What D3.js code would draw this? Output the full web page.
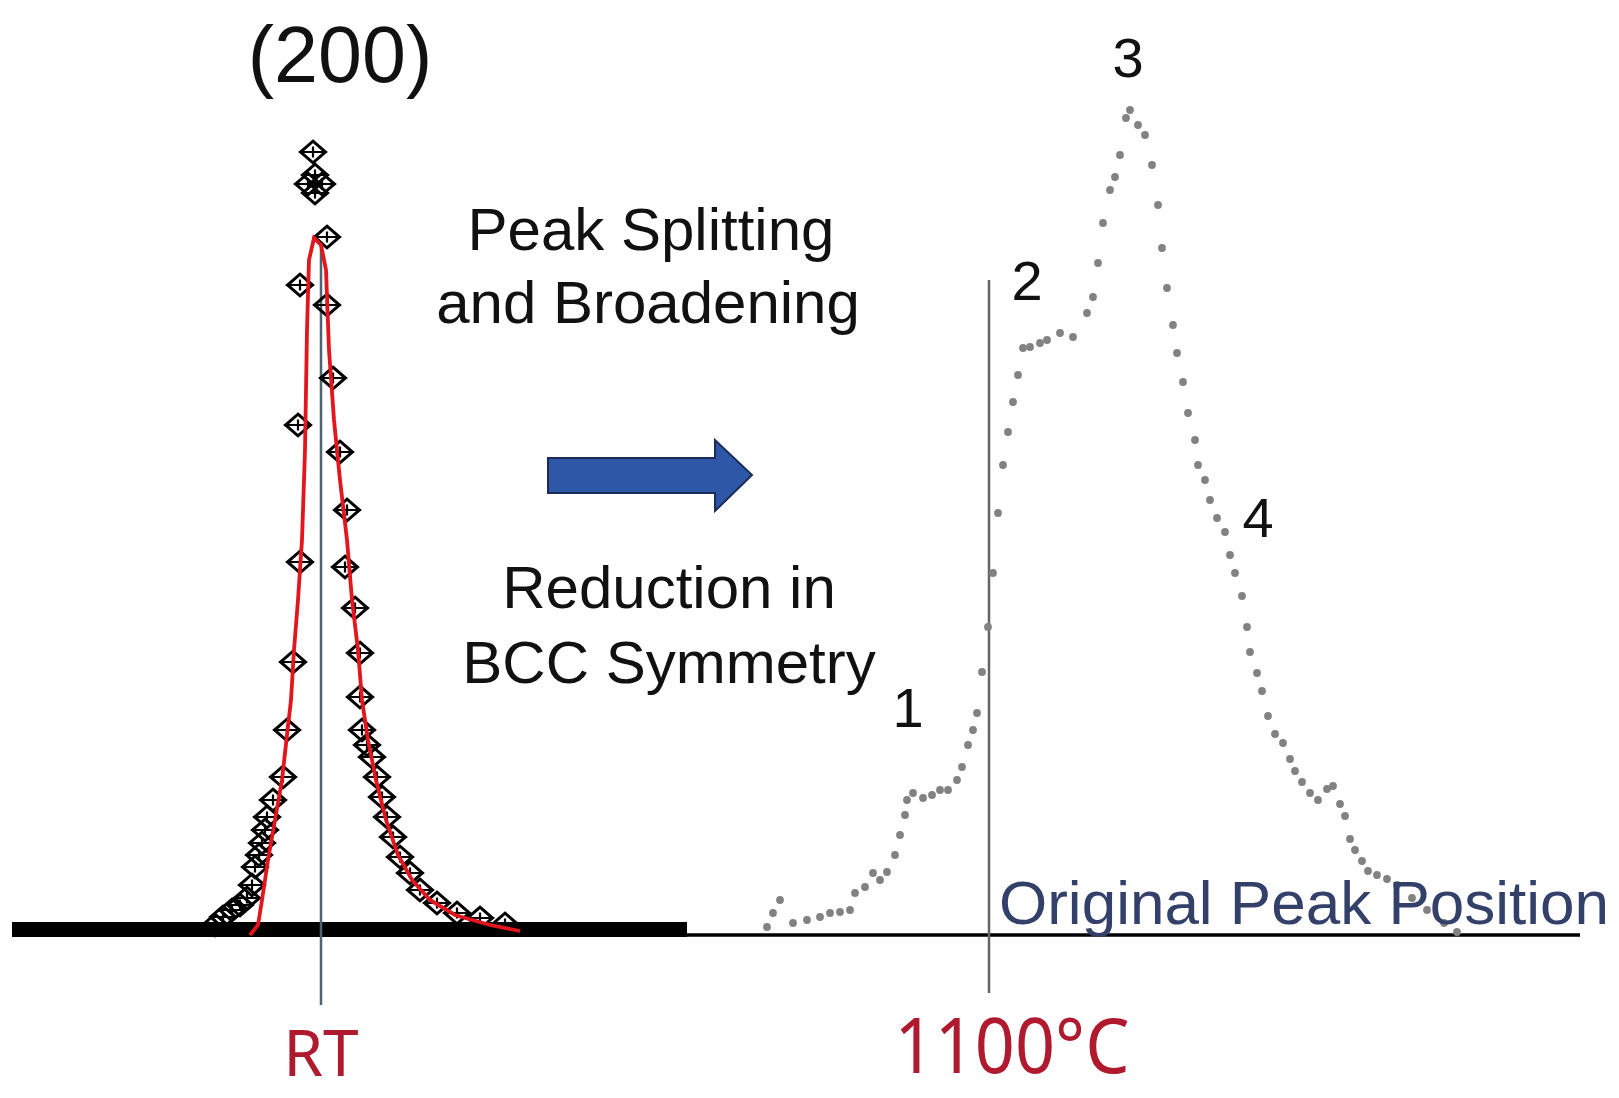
<!DOCTYPE html>
<html>
<head>
<meta charset="utf-8">
<script src="https://cdn.jsdelivr.net/npm/d3@7"></script>
<style>
  body { margin: 0; background: #fff; }
  svg { display: block; }
</style>
</head>
<body>
<div id="chart"></div>
<script>
// RT (200) profile: measured points (hollow diamonds)
var rtPoints = [
  [20.3,1.0],[21.1,1.8],[22.0,2.5],[22.8,3.0],[23.5,3.7],[24.0,5.0],[24.3,6.8],[24.7,8.0],
  [25.0,9.2],[25.3,10.5],[25.5,11.8],[26.1,13.5],[27.1,15.8],[27.5,20.5],[28.1,27.3],
  [28.8,37.3],[28.6,51.0],[28.8,65.0],[31.5,69.8],
  [31.5,63.0],[32.1,55.7],[32.8,48.3],[33.5,42.5],[33.3,36.8],[34.3,32.7],[34.8,28.2],
  [34.8,23.8],[35.0,20.5],[35.5,19.0],[36.0,17.8],[36.5,15.8],[37.0,13.8],[37.5,11.8],
  [38.1,9.8],[38.8,7.8],[39.8,6.2],[40.8,4.5],[42.5,3.2],[44.5,2.2],[46.8,1.7],[49.3,1.1]
];
// stray points above the RT peak
var rtOutliers = [[30.1,78.3],[30.3,76.0],[29.6,75.1],[31.0,75.1],[30.3,74.2]];
// RT fitted profile (red)
var rtFit = [
  [23.8,0],[24.6,1.0],[25.0,3.5],[25.6,7.5],[26.3,11.5],[27.0,15.5],[27.5,20.0],[27.9,23.5],
  [28.2,28.5],[28.6,33.5],[29.0,39.5],[29.3,48.5],[29.5,60.5],[29.7,67.5],[30.2,69.7],
  [30.9,69.0],[31.4,66.5],[31.7,58.5],[32.2,51.5],[32.8,45.5],[33.5,39.5],[34.0,33.5],
  [34.6,28.5],[35.0,23.5],[35.6,19.5],[36.4,15.5],[37.4,11.5],[38.6,8.0],[40.0,5.5],
  [41.8,3.5],[44.3,2.0],[47.8,1.0],[50.8,0.4]
];
// extent of the RT scan background (dense markers on the baseline)
var rtScanRange = [0, 67.5];
var rtScanLevel = 1.3;

// 1100 C profile (grey dots)
var hotPoints = [
  [75.5,0.8],[76.1,2.2],[76.8,3.5],[78.1,1.2],[79.5,1.5],[80.8,1.8],[81.8,2.2],[82.8,2.3],
  [83.8,2.5],[84.3,4.2],[85.3,4.8],[86.1,6.2],[86.8,5.5],[87.5,6.3],[88.3,8.0],[88.8,10.0],
  [89.3,12.0],[89.5,13.5],[90.1,14.2],[91.1,13.7],[92.0,14.0],[92.8,14.5],[93.6,14.5],
  [94.5,15.5],[95.0,16.8],[95.6,19.0],[96.1,20.5],[96.5,22.2],[97.0,26.3],[97.6,30.8],
  [98.1,36.2],[98.6,42.2],[99.1,47.0],[99.6,50.3],[100.1,53.3],[100.6,56.0],[101.1,58.7],
  [101.8,58.8],[102.8,59.2],[103.5,59.5],[104.8,60.2],[106.1,59.8],[107.5,62.2],[108.1,63.8],
  [108.6,67.2],[109.1,71.2],[109.8,74.5],[110.3,75.8],[110.8,78.0],[111.4,81.7],[111.8,82.5],
  [112.6,81.0],[113.3,80.0],[114.0,77.0],[114.6,73.0],[115.0,68.7],[115.5,64.7],[116.1,61.0],
  [116.5,58.2],[117.1,55.3],[117.6,52.2],[118.3,49.5],[118.6,47.0],[119.3,45.5],[119.8,43.5],
  [120.5,41.7],[121.3,40.3],[121.8,38.0],[122.3,36.2],[123.0,33.9],[123.5,30.8],[123.8,28.3],
  [124.5,26.2],[125.0,24.4],[125.6,21.9],[126.3,20.1],[127.1,19.2],[127.8,17.6],[128.3,16.4],
  [129.0,15.3],[129.8,14.2],[130.6,13.5],[131.5,14.6],[132.1,14.9],[132.8,13.1],[133.3,11.9],
  [133.8,9.6],[134.3,8.5],[135.0,7.4],[135.6,6.4],[136.5,6.0],[137.5,5.6],[138.5,5.0],
  [140.0,3.7],[141.5,2.5],[143.2,1.2],[144.5,0.3]
];

var rtPosition = 30.9;     // RT peak position
var hotPosition = 97.7;    // original peak position marked in the 1100 C scan
var peakLabels = [["1", 89.6, 20.8], ["2", 101.5, 63.5], ["3", 111.6, 85.8], ["4", 124.6, 39.8]];

var W = 1619, H = 1098;
var svg = d3.select("#chart").append("svg")
    .attr("width", W).attr("height", H)
    .style("background", "#fff");

var x = d3.scaleLinear().domain([0, 156.8]).range([12, 1580]);
var y = d3.scaleLinear().domain([0, 83.5]).range([935, 100]);

// baseline
svg.append("line")
    .attr("x1", x(0)).attr("x2", x(156.8))
    .attr("y1", y(0)).attr("y2", y(0))
    .attr("stroke", "#000").attr("stroke-width", 3.5);

// dense RT background band
svg.append("rect")
    .attr("x", x(rtScanRange[0])).attr("width", x(rtScanRange[1]) - x(rtScanRange[0]))
    .attr("y", y(rtScanLevel)).attr("height", y(-0.2) - y(rtScanLevel))
    .attr("fill", "#000");

// vertical position markers
svg.append("line")
    .attr("x1", x(rtPosition)).attr("x2", x(rtPosition))
    .attr("y1", y(69)).attr("y2", y(-7.0))
    .attr("stroke", "#4e6475").attr("stroke-width", 2.5);
svg.append("line")
    .attr("x1", x(hotPosition)).attr("x2", x(hotPosition))
    .attr("y1", y(65.5)).attr("y2", y(-5.8))
    .attr("stroke", "#666").attr("stroke-width", 2.5);

// diamond markers with a small cross inside
var diamond = {
  draw: function (ctx, size) {
    var r = Math.sqrt(size) / 2;
    ctx.moveTo(0, -r);
    ctx.lineTo(r * 1.15, 0);
    ctx.lineTo(0, r);
    ctx.lineTo(-r * 1.15, 0);
    ctx.closePath();
  }
};
var cross = {
  draw: function (ctx, size) {
    var r = Math.sqrt(size) / 2;
    ctx.moveTo(-r * 1.3, 0); ctx.lineTo(r * 1.3, 0);
    ctx.moveTo(0, -r * 0.5); ctx.lineTo(0, r * 0.5);
  }
};

var rtAll = rtPoints.concat(rtOutliers);
var gDia = svg.append("g");
gDia.selectAll("path.dia").data(rtAll).enter().append("path")
    .attr("class", "dia")
    .attr("transform", function (d) { return "translate(" + x(d[0]) + "," + y(d[1]) + ")"; })
    .attr("d", d3.symbol().type(diamond).size(470))
    .attr("fill", "none").attr("stroke", "#000").attr("stroke-width", 3);
gDia.selectAll("path.crs").data(rtAll).enter().append("path")
    .attr("class", "crs")
    .attr("transform", function (d) { return "translate(" + x(d[0]) + "," + y(d[1]) + ")"; })
    .attr("d", d3.symbol().type(cross).size(470))
    .attr("fill", "none").attr("stroke", "#000").attr("stroke-width", 2.2);

// red fit line
svg.append("path").datum(rtFit)
    .attr("fill", "none").attr("stroke", "#e3161d").attr("stroke-width", 3.8)
    .attr("d", d3.line().x(function (d) { return x(d[0]); }).y(function (d) { return y(d[1]); }));

// 1100 C dots
svg.append("g").selectAll("circle").data(hotPoints).enter().append("circle")
    .attr("cx", function (d) { return x(d[0]); })
    .attr("cy", function (d) { return y(d[1]); })
    .attr("r", 3.9)
    .attr("fill", "#828282");

// arrow
var arrow = [[548,458],[715,458],[715,440],[752,475],[715,511],[715,493],[548,493]];
svg.append("path")
    .attr("d", d3.line()(arrow) + "Z")
    .attr("fill", "#2e57a7").attr("stroke", "#1b2c56").attr("stroke-width", 2);

// texts
var sans = "'Liberation Sans', Arial, Helvetica, sans-serif";
function label(txt, px, py, size, color, anchor, family) {
  return svg.append("text")
      .attr("x", px).attr("y", py)
      .attr("text-anchor", anchor || "middle")
      .style("font-family", family || sans)
      .style("font-size", size + "px")
      .attr("fill", color || "#111")
      .text(txt);
}
label("(200)", 340, 82, 79);
label("Peak Splitting", 651, 250, 60);
label("and Broadening", 648, 323, 60);
label("Reduction in", 669, 608, 60);
label("BCC Symmetry", 669, 683, 60);

peakLabels.forEach(function (p) {
  label(p[0], x(p[1]), y(p[2]), 56);
});

label("Original Peak Position", 999, 924, 62, "#33416a", "start");

label("RT", x(rtPosition), 1076, 64, "#b01a2e", "middle", "'Noto Sans', sans-serif");
label("1100°C", 1012, 1073, 77, "#b01a2e", "middle", "'Noto Sans', sans-serif")
    .attr("textLength", 235).attr("lengthAdjust", "spacingAndGlyphs");
</script>
</body>
</html>
